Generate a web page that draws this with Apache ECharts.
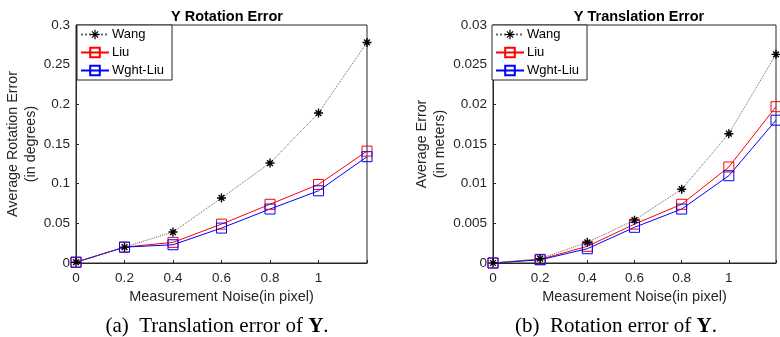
<!DOCTYPE html>
<html>
<head>
<meta charset="utf-8">
<script src="https://cdn.jsdelivr.net/npm/echarts@6/dist/echarts.min.js"></script>
<style>
  html, body { margin: 0; padding: 0; background: #fff; }
  #chart { width: 780px; height: 337px; }
</style>
</head>
<body>
<div id="chart"></div>
<script>
// noise levels (pixel)
const noise = [0, 0.2, 0.4, 0.6, 0.8, 1.0, 1.2];
const seriesNames = ['Wang', 'Liu', 'Wght-Liu'];

// rotation error (degrees)
const rotWang = [0.001, 0.020, 0.039, 0.082, 0.126, 0.189, 0.278];
const rotLiu = [0.001, 0.020, 0.026, 0.049, 0.074, 0.099, 0.141];
const rotWght = [0.001, 0.020, 0.023, 0.044, 0.068, 0.091, 0.134];

// translation error (meters)
const trWang = [0, 0.00055, 0.0026, 0.0054, 0.0093, 0.0163, 0.0263];
const trLiu = [0, 0.00046, 0.0021, 0.0049, 0.0074, 0.0121, 0.0197];
const trWght = [0, 0.0004, 0.0018, 0.0045, 0.0068, 0.0110, 0.0180];

const titles = ['Y Rotation Error', 'Y Translation Error'];
const yNames = ['Average Rotation Error\n(in degrees)', 'Average Error\n(in meters)'];

const asterisk = 'path://M5,0L5,10M0,5L10,5M1.8,1.8L8.2,8.2M1.8,8.2L8.2,1.8';
const axisColor = '#262626';
const sans = '"Liberation Sans", Arial, sans-serif';
const serif = '"Liberation Serif", "Times New Roman", serif';

const chart = echarts.init(document.getElementById('chart'));

function pairs(ys) {
  return noise.map((x, i) => [x, ys[i]]);
}

function makeSeries(gi, wang, liu, wght) {
  return [
    {
      name: 'Wang', type: 'line', xAxisIndex: gi, yAxisIndex: gi,
      data: pairs(wang),
      symbol: asterisk, symbolSize: 9,
      itemStyle: { color: 'rgba(0,0,0,0)', borderColor: '#000', borderWidth: 1.4 },
      lineStyle: { color: '#666', width: 1, type: 'dotted' },
      z: 3,
    },
    {
      name: 'Liu', type: 'line', xAxisIndex: gi, yAxisIndex: gi,
      data: pairs(liu),
      symbol: 'rect', symbolSize: 10,
      itemStyle: { color: 'rgba(0,0,0,0)', borderColor: '#ff0000', borderWidth: 1 },
      lineStyle: { color: '#ff0000', width: 1 },
      z: 2,
    },
    {
      name: 'Wght-Liu', type: 'line', xAxisIndex: gi, yAxisIndex: gi,
      data: pairs(wght),
      symbol: 'rect', symbolSize: 10,
      itemStyle: { color: 'rgba(0,0,0,0)', borderColor: '#0000ff', borderWidth: 1 },
      lineStyle: { color: '#0000ff', width: 1 },
      z: 2,
    },
  ];
}

const grids = [
  { left: 76, top: 25, width: 291, height: 238 },
  { left: 493, top: 25, width: 283, height: 238 },
];

function xAxis(gi) {
  return {
    type: 'value', gridIndex: gi, min: 0, max: 1.2, interval: 0.2,
    name: 'Measurement Noise(in pixel)', nameLocation: 'middle', nameGap: 25,
    nameTextStyle: { color: axisColor, fontSize: 14.5, fontFamily: sans },
    axisLine: { show: true, lineStyle: { color: axisColor } },
    axisTick: { show: true, inside: true, length: 3, lineStyle: { color: axisColor } },
    axisLabel: {
      color: axisColor, fontSize: 13.5, fontFamily: sans, margin: 8,
      formatter: (v) => (v > 1.1 ? '' : String(+v.toFixed(1))),
    },
    splitLine: { show: false },
  };
}

function yAxis(gi, max, step, gap) {
  return {
    type: 'value', gridIndex: gi, min: 0, max: max, interval: step,
    name: yNames[gi], nameLocation: 'middle', nameGap: gap, nameRotate: 90,
    nameTextStyle: { color: axisColor, fontSize: 14.3, fontFamily: sans, lineHeight: 18 },
    axisLine: { show: true, lineStyle: { color: axisColor } },
    axisTick: { show: true, inside: true, length: 3, lineStyle: { color: axisColor } },
    axisLabel: {
      color: axisColor, fontSize: 13.5, fontFamily: sans, margin: 6,
      formatter: (v) => String(+v.toFixed(4)),
    },
    splitLine: { show: false },
  };
}

function legend(left) {
  return {
    data: [
      { name: 'Wang', itemStyle: { color: 'rgba(0,0,0,0)', borderColor: '#000', borderWidth: 1.2 } },
      { name: 'Liu' },
      { name: 'Wght-Liu' },
    ],
    orient: 'vertical', left: left, top: 25,
    itemWidth: 28, itemHeight: 12, itemGap: 5,
    padding: [3, 8, 3, 3],
    borderColor: axisColor, borderWidth: 1, backgroundColor: '#fff',
    textStyle: { color: '#000', fontSize: 13, fontFamily: sans, padding: [0, 0, 0, -2] },
    selectedMode: false,
  };
}

function caption(text, x) {
  return {
    text: text, left: x, top: 311, textAlign: 'center',
    textStyle: {
      fontSize: 21, fontWeight: 'normal', color: '#000', fontFamily: serif,
      rich: { b: { fontSize: 21, fontWeight: 'bold', fontFamily: serif } },
    },
  };
}

chart.setOption({
  animation: false,
  title: [
    { text: titles[0], left: 222, top: 4, textAlign: 'center',
      textStyle: { fontSize: 14.5, fontWeight: 'bold', color: '#000', fontFamily: sans } },
    { text: titles[1], left: 634, top: 4, textAlign: 'center',
      textStyle: { fontSize: 14.5, fontWeight: 'bold', color: '#000', fontFamily: sans } },
    caption('(a)  Translation error of {b|Y}.', 212),
    caption('(b)  Rotation error of {b|Y}.', 611),
  ],
  grid: grids.map((g) => Object.assign({ show: true, borderColor: axisColor, borderWidth: 1, backgroundColor: '#fff' }, g)),
  legend: [legend(77), legend(492)],
  xAxis: [xAxis(0), xAxis(1)],
  yAxis: [yAxis(0, 0.3, 0.05, 33), yAxis(1, 0.03, 0.005, 43)],
  series: [...makeSeries(0, rotWang, rotLiu, rotWght), ...makeSeries(1, trWang, trLiu, trWght)],
});
</script>
</body>
</html>
